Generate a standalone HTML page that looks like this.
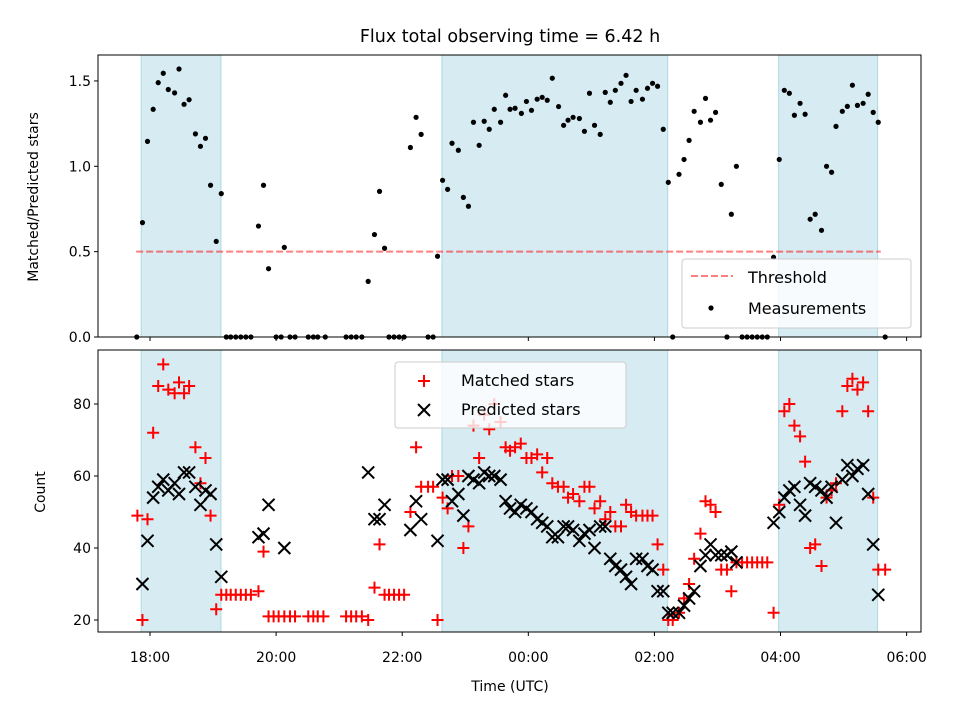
<!DOCTYPE html>
<html><head><meta charset="utf-8"><style>
html,body{margin:0;padding:0;background:#fff;}
svg{display:block;font-family:"DejaVu Sans","Liberation Sans",sans-serif;}
</style></head><body>
<svg id="chart" width="960" height="720" viewBox="0 0 960 720">
<text x="510" y="42" text-anchor="middle" font-size="17.5">Flux total observing time = 6.42 h</text>
<g id="top"></g>
<g id="bot"></g>
<text x="510" y="691" text-anchor="middle" font-size="14">Time (UTC)</text>
<text transform="translate(38,197) rotate(-90)" text-anchor="middle" font-size="14">Matched/Predicted stars</text>
<text transform="translate(45,492) rotate(-90)" text-anchor="middle" font-size="14">Count</text>
</svg>
<script>
const shadeStart = [17.86, 22.63, 27.97];
const shadeEnd = [19.125, 26.21, 29.54];
const threshold = 0.5;
const thresholdRange = [17.78, 29.59];
const xTickHours = [18, 20, 22, 24, 26, 28, 30];
const xTickLabels = ["18:00","20:00","22:00","00:00","02:00","04:00","06:00"];
const topTicks = [0, 0.5, 1.0, 1.5];
const topTickLabels = ["0.0","0.5","1.0","1.5"];
const botTicks = [20, 40, 60, 80];
const botTickLabels = ["20","40","60","80"];

const measTimes = [17.79,17.88,17.96,18.05,18.13,18.21,18.29,18.39,18.46,18.54,18.62,18.72,18.80,18.88,18.96,19.05,19.13,19.21,19.28,19.36,19.44,19.52,19.60,19.72,19.80,19.88,20.00,20.08,20.13,20.22,20.30,20.51,20.59,20.66,20.78,21.11,21.19,21.27,21.36,21.46,21.56,21.64,21.72,21.79,21.87,21.95,22.03,22.13,22.22,22.30,22.41,22.49,22.56,22.64,22.72,22.79,22.89,22.97,23.05,23.13,23.22,23.30,23.38,23.46,23.56,23.64,23.71,23.79,23.89,23.97,24.05,24.14,24.22,24.30,24.38,24.48,24.56,24.63,24.71,24.81,24.89,24.97,25.05,25.14,25.22,25.30,25.38,25.47,25.55,25.63,25.71,25.81,25.89,25.97,26.05,26.14,26.22,26.29,26.39,26.47,26.55,26.63,26.73,26.81,26.89,26.97,27.06,27.15,27.22,27.30,27.39,27.47,27.55,27.63,27.71,27.79,27.89,27.98,28.06,28.14,28.22,28.31,28.39,28.47,28.55,28.65,28.73,28.81,28.88,28.98,29.06,29.14,29.22,29.31,29.39,29.47,29.55,29.66];
const measValues = [0,0.67,1.146,1.334,1.49,1.545,1.45,1.43,1.57,1.363,1.39,1.19,1.117,1.164,0.889,0.56,0.84,0,0,0,0,0,0,0.65,0.889,0.40,0,0,0.525,0,0,0,0,0,0,0,0,0,0,0.326,0.60,0.853,0.52,0,0,0,0,1.11,1.287,1.187,0,0,0.473,0.918,0.865,1.135,1.094,0.818,0.766,1.258,1.123,1.264,1.217,1.334,1.258,1.416,1.334,1.34,1.31,1.38,1.328,1.393,1.404,1.387,1.516,1.35,1.24,1.27,1.287,1.28,1.205,1.428,1.24,1.187,1.433,1.375,1.445,1.486,1.533,1.38,1.445,1.393,1.457,1.486,1.469,1.217,0.906,0,0.953,1.04,1.152,1.322,1.258,1.398,1.27,1.316,0.894,0,0.719,1.0,0,0,0,0,0,0,0.467,1.04,1.445,1.428,1.299,1.369,1.305,0.69,0.719,0.625,1.0,0.965,1.234,1.322,1.351,1.475,1.357,1.369,1.422,1.316,1.258,0];

const matchedTimes = [17.80,17.88,17.96,18.05,18.13,18.21,18.29,18.39,18.46,18.54,18.62,18.72,18.80,18.88,18.96,19.05,19.13,19.21,19.28,19.36,19.44,19.52,19.60,19.72,19.80,19.88,19.96,20.04,20.13,20.22,20.30,20.51,20.59,20.66,20.75,21.11,21.19,21.27,21.36,21.46,21.56,21.64,21.72,21.79,21.87,21.95,22.03,22.13,22.22,22.30,22.41,22.49,22.56,22.64,22.72,22.79,22.89,22.97,23.05,23.13,23.22,23.30,23.38,23.46,23.56,23.64,23.71,23.79,23.88,23.97,24.05,24.14,24.22,24.30,24.38,24.47,24.56,24.63,24.71,24.81,24.89,24.97,25.05,25.14,25.22,25.30,25.38,25.47,25.55,25.63,25.71,25.81,25.89,25.97,26.05,26.14,26.22,26.29,26.39,26.47,26.55,26.63,26.73,26.81,26.89,26.97,27.06,27.15,27.22,27.30,27.39,27.47,27.55,27.63,27.71,27.79,27.89,27.98,28.06,28.14,28.22,28.31,28.39,28.47,28.55,28.65,28.73,28.81,28.88,28.98,29.06,29.14,29.22,29.31,29.39,29.47,29.55,29.66];
const matchedValues = [49,20,48,72,85,91,84,83,86,83,85,68,58,65,49,23,27,27,27,27,27,27,27,28,39,21,21,21,21,21,21,21,21,21,21,21,21,21,21,20,29,41,27,27,27,27,27,50,68,57,57,57,20,54,51,60,60,40,46,74,65,77,73,80,75,68,67,68,69,65,65,66,61,65,58,57,57,54,55,53,57,57,51,53,48,50,46,46,52,50,49,49,49,49,41,34,20,20,22,26,30,37,44,53,52,50,34,34,28,36,36,36,36,36,36,36,22,52,78,80,74,71,64,40,41,35,54,56,58,78,85,87,84,86,78,54,34,34];

const predTimes = [17.88,17.96,18.05,18.13,18.21,18.29,18.39,18.46,18.54,18.62,18.72,18.80,18.88,18.96,19.05,19.13,19.72,19.80,19.88,20.13,21.46,21.56,21.64,21.72,22.13,22.22,22.30,22.56,22.64,22.72,22.79,22.89,22.97,23.05,23.13,23.22,23.30,23.38,23.46,23.56,23.64,23.71,23.79,23.88,23.97,24.05,24.14,24.22,24.30,24.38,24.47,24.56,24.63,24.71,24.81,24.89,24.97,25.05,25.14,25.22,25.30,25.38,25.47,25.55,25.63,25.71,25.81,25.89,25.97,26.05,26.14,26.22,26.29,26.39,26.47,26.55,26.63,26.73,26.81,26.89,26.97,27.06,27.15,27.22,27.30,27.89,27.98,28.06,28.14,28.22,28.31,28.39,28.47,28.55,28.65,28.73,28.81,28.88,28.98,29.06,29.14,29.22,29.31,29.39,29.47,29.55];
const predValues = [30,42,54,57,59,56,58,55,61,61,57,52,56,55,41,32,43,44,52,40,61,48,48,52,45,53,48,42,59,59,53,55,49,60,59,58,61,60,60,59,53,51,50,52,51,50,48,47,46,43,43,46,46,45,42,44,45,40,46,46,37,35,34,32,30,37,37,35,34,28,28,22,22,22,24,26,28,35,38,41,38,38,38,39,36,47,50,54,56,57,52,49,58,57,56,54,57,47,59,63,60,62,63,55,41,27];

const NS = "http://www.w3.org/2000/svg";
const X0 = 98, X1 = 921, H0 = 17.175, H1 = 30.228;
function xs(h){ return X0 + (h - H0) / (H1 - H0) * (X1 - X0); }
const topP = {y0:55, y1:337, v0:0, v1:1.652};
const botP = {y0:350, y1:632, v0:16.67, v1:95};
function ys(p, v){ return p.y1 - (v - p.v0) / (p.v1 - p.v0) * (p.y1 - p.y0); }
function mk(tag, attrs, parent){ const e = document.createElementNS(NS, tag); for (const k in attrs) e.setAttribute(k, attrs[k]); parent.appendChild(e); return e; }

function frame(g, p, ticks, labels, isBottom){
  for (let i = 0; i < shadeStart.length; i++){
    const r = mk('rect', {x: xs(shadeStart[i]), y: p.y0, width: xs(shadeEnd[i]) - xs(shadeStart[i]), height: p.y1 - p.y0, fill: '#add8e6', 'fill-opacity': 0.5, stroke: '#add8e6', 'stroke-width': 1}, g);
    
    
  }
  for (let i = 0; i < ticks.length; i++){
    const y = ys(p, ticks[i]);
    mk('line', {x1: X0 - 4, x2: X0, y1: y, y2: y, stroke: '#000', 'stroke-width': 1}, g);
    const t = mk('text', {x: X0 - 7, y: y + 5, 'text-anchor': 'end', 'font-size': 14}, g);
    t.textContent = labels[i];
    
    
  }
  for (let i = 0; i < xTickHours.length; i++){
    const x = xs(xTickHours[i]);
    mk('line', {x1: x, x2: x, y1: p.y1, y2: p.y1 + 4, stroke: '#000', 'stroke-width': 1}, g);
    if (isBottom){
      const t = mk('text', {x: x, y: p.y1 + 30, 'text-anchor': 'middle', 'font-size': 14}, g);
      t.textContent = xTickLabels[i];
      
      
    }
  }
}
function border(g, p){
  mk('rect', {x: X0, y: p.y0, width: X1 - X0, height: p.y1 - p.y0, fill: 'none', stroke: '#000', 'stroke-width': 1}, g);
}

const gt = document.getElementById('top');
frame(gt, topP, topTicks, topTickLabels, false);
const th = mk('line', {x1: xs(thresholdRange[0]), x2: xs(thresholdRange[1]), y1: ys(topP, threshold), y2: ys(topP, threshold), stroke: '#ff0000', 'stroke-opacity': 0.5, 'stroke-width': 2, 'stroke-dasharray': '7,3'}, gt);


for (let i = 0; i < measTimes.length; i++){
  const c = mk('circle', {cx: xs(measTimes[i]), cy: ys(topP, measValues[i]), r: 2.6, fill: '#000'}, gt);
  
  
}
border(gt, topP);
const lt = mk('g', {}, gt);


mk('rect', {x: 682, y: 259, width: 229, height: 69, rx: 3, fill: '#fff', 'fill-opacity': 0.8, stroke: '#ccc'}, lt);
mk('line', {x1: 691, x2: 733, y1: 276, y2: 276, stroke: '#ff0000', 'stroke-opacity': 0.5, 'stroke-width': 2, 'stroke-dasharray': '7,3'}, lt);
mk('circle', {cx: 711, cy: 308, r: 2.6, fill: '#000'}, lt);
const l1 = mk('text', {x: 748, y: 283, 'font-size': 16}, lt); l1.textContent = 'Threshold';
 
const l2 = mk('text', {x: 748, y: 314, 'font-size': 16}, lt); l2.textContent = 'Measurements';
 

const gb = document.getElementById('bot');
frame(gb, botP, botTicks, botTickLabels, true);
function plus(g, x, y){
  return mk('path', {d: `M${x-6},${y}H${x+6}M${x},${y-6}V${y+6}`, stroke: '#ff0000', 'stroke-width': 2, fill: 'none'}, g);
}
function cross(g, x, y){
  return mk('path', {d: `M${x-6},${y-6}L${x+6},${y+6}M${x-6},${y+6}L${x+6},${y-6}`, stroke: '#000', 'stroke-width': 2, fill: 'none'}, g);
}
for (let i = 0; i < matchedTimes.length; i++){
  const e = plus(gb, xs(matchedTimes[i]), ys(botP, matchedValues[i]));
  
  
}
for (let i = 0; i < predTimes.length; i++){
  const e = cross(gb, xs(predTimes[i]), ys(botP, predValues[i]));
  
  
}
border(gb, botP);
const lb = mk('g', {}, gb);


mk('rect', {x: 395, y: 362, width: 231, height: 66, rx: 3, fill: '#fff', 'fill-opacity': 0.8, stroke: '#ccc'}, lb);
plus(lb, 424, 381);
cross(lb, 424, 410);
const l3 = mk('text', {x: 461, y: 386, 'font-size': 16}, lb); l3.textContent = 'Matched stars';
 
const l4 = mk('text', {x: 461, y: 415, 'font-size': 16}, lb); l4.textContent = 'Predicted stars';
 
</script>
</body></html>
